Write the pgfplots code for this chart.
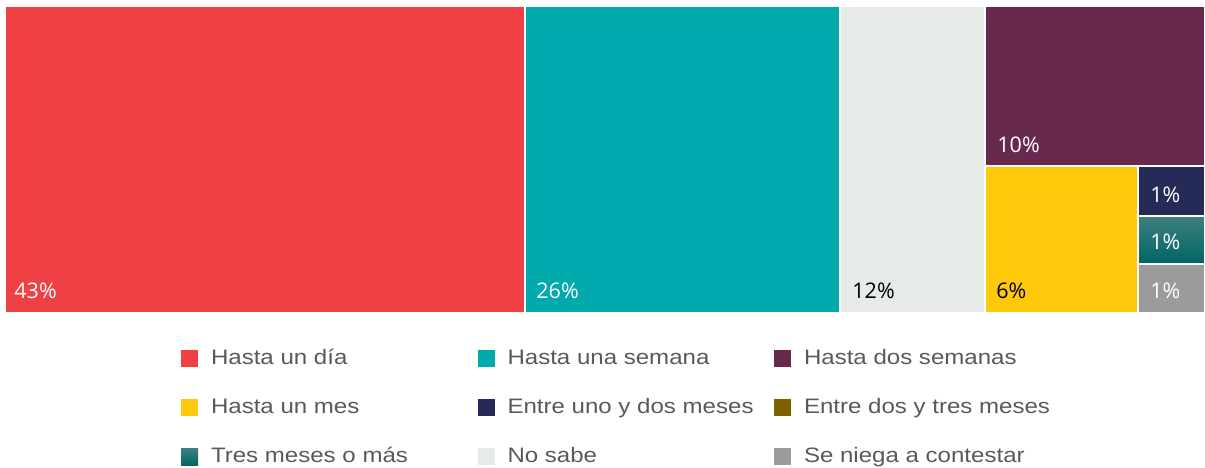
\documentclass[border=0pt]{standalone}
\usepackage{fontspec}
\usepackage{pgfplots}
\pgfplotsset{compat=1.18}
\newfontfamily\legfont[FakeStretch=1.15]{Liberation Sans}
\newfontfamily\labfont{Open Sans}
\definecolor{cRed}{HTML}{EF4044}
\definecolor{cTeal}{HTML}{00AAAD}
\definecolor{cPurple}{HTML}{672A4E}
\definecolor{cYellow}{HTML}{FFC80A}
\definecolor{cNavy}{HTML}{262A57}
\definecolor{cOlive}{HTML}{7F6000}
\definecolor{cDkTealA}{HTML}{3F7F7F}
\definecolor{cDkTealB}{HTML}{006565}
\definecolor{cNoSabe}{HTML}{E7EBE8}
\definecolor{cGray}{HTML}{9B9B9B}
\definecolor{cLegText}{HTML}{595959}
\newcommand{\legtxt}[1]{\makebox[133.25bp][l]{#1}}
\begin{document}
\begin{tikzpicture}
\path[use as bounding box] (-2.5bp,-77.5bp) rectangle (600bp,156.5bp);
\begin{axis}[
  scale only axis, width=600bp, height=153.5bp,
  xmin=0, xmax=1200, ymin=0, ymax=307,
  hide axis, clip=false,
  legend columns=3, legend cell align=left,
  legend image code/.code={\path[#1,draw=none] (0bp,-4.25bp) rectangle (8.5bp,4.25bp);},
  legend style={at={(0.14667,-0.11564)}, anchor=north west, draw=none, fill=none,
    inner sep=0pt, outer sep=0pt, font=\legfont\fontsize{10.5}{12}\selectfont, text=cLegText,
    nodes={inner sep=0pt, text height=8bp, text depth=2bp},
    row sep=14.6bp,
    /tikz/every odd column/.append style={column sep=6.5bp},
    /tikz/every even column/.append style={column sep=0bp}},
  rect/.style={draw=white, line width=1.2bp},
]
% treemap tiles (share in %: 43, 26, 10, 6, 1, 0, 1, 12, 1)
\addplot[rect, fill=cRed] coordinates {(0,0) (520,0) (520,307) (0,307) (0,0)};
\addlegendentry{\legtxt{Hasta un día}}
\addplot[rect, fill=cTeal] coordinates {(520,0) (835,0) (835,307) (520,307) (520,0)};
\addlegendentry{\legtxt{Hasta una semana}}
\addplot[rect, fill=cPurple] coordinates {(980,147) (1200,147) (1200,307) (980,307) (980,147)};
\addlegendentry{\legtxt{Hasta dos semanas}}
\addplot[rect, fill=cYellow] coordinates {(980,0) (1133,0) (1133,147) (980,147) (980,0)};
\addlegendentry{\legtxt{Hasta un mes}}
\addplot[rect, fill=cNavy] coordinates {(1133,97) (1200,97) (1200,147) (1133,147) (1133,97)};
\addlegendentry{\legtxt{Entre uno y dos meses}}
\addlegendimage{fill=cOlive}
\addlegendentry{\legtxt{Entre dos y tres meses}}
\addplot[rect, top color=cDkTealA, bottom color=cDkTealB] coordinates {(1133,49) (1200,49) (1200,97) (1133,97) (1133,49)};
\addlegendentry{\legtxt{Tres meses o más}}
\addplot[rect, fill=cNoSabe] coordinates {(835,0) (980,0) (980,307) (835,307) (835,0)};
\addlegendentry{\legtxt{No sabe}}
\addplot[rect, fill=cGray] coordinates {(1133,0) (1200,0) (1200,49) (1133,49) (1133,0)};
\addlegendentry{\legtxt{Se niega a contestar}}
% labels
\addplot[draw=none, mark=none, forget plot, nodes near coords, point meta=explicit symbolic,
  nodes near coords align={anchor=base west},
  every node near coord/.append style={inner sep=0pt, text=white, font=\labfont\fontsize{10.8}{12}\selectfont}]
  coordinates {(9,15) [43\%] (531,15) [26\%] (992,161) [10\%] (1145,111) [1\%] (1145,64) [1\%] (1145,15) [1\%]};
\addplot[draw=none, mark=none, forget plot, nodes near coords, point meta=explicit symbolic,
  nodes near coords align={anchor=base west},
  every node near coord/.append style={inner sep=0pt, text=black, font=\labfont\fontsize{10.8}{12}\selectfont}]
  coordinates {(847,15) [12\%] (991,15) [6\%]};
\end{axis}
\end{tikzpicture}
\end{document}
